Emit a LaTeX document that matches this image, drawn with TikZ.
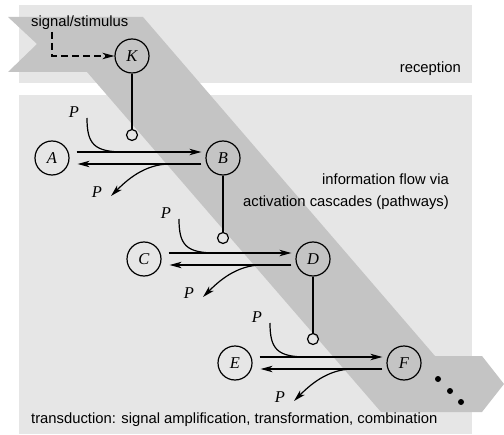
\documentclass[tikz,border=0pt]{standalone}
\usepackage{fontspec}
\setmainfont{Liberation Sans}
\newfontfamily\serifit{Liberation Serif}
\usetikzlibrary{arrows.meta,calc}
\definecolor{boxgray}{RGB}{230,230,230}
\definecolor{bandgray}{RGB}{196,196,196}
\newcommand{\reactpair}[2]{%
  \draw[arr] ($(#1.east)+(7,-6)$) -- ($(#2.west)+(-4,-6)$);
  \draw[arr] ($(#2.west)+(-4,6)$) -- ($(#1.east)+(8,6)$);
  \node[plabel] (#1pu) at ($(#1)+(22,-46)$) {P};
  \node[plabel] (#1pd) at ($(#1)+(45,34)$) {P};
  \coordinate (#1cu) at ($(#1)+(35,-40)$);
  \coordinate (#1cm) at ($(#1)+(72,-6)$);
  \coordinate (#1cd) at ($(#1)+(118,6)$);
  \coordinate (#1ce) at ($(#1)+(59,38)$);
  \draw[conn] (#1cu) .. controls ($(#1)+(35,-14)$) and ($(#1)+(42,-6)$) .. (#1cm);
  \draw[arr] (#1cd) .. controls ($(#1)+(92,6)$) and ($(#1)+(74,23)$) .. (#1ce);
}
\begin{document}
\begin{tikzpicture}[x=1bp,y=-1bp,
  state/.style={circle,draw,line width=1.2bp,minimum size=34bp,inner sep=0pt,
    font=\fontsize{16.5bp}{16.5bp}\selectfont\serifit\itshape},
  knob/.style={circle,draw,line width=1.2bp,minimum size=11bp,inner sep=0pt},
  plabel/.style={inner sep=0pt,font=\fontsize{16.5bp}{16.5bp}\selectfont\serifit\itshape},
  conn/.style={line width=1.2bp},
  arr/.style={line width=1.2bp,-{Stealth[length=12bp,width=6.5bp,inset=3.5bp]}},
  sig/.style={line width=1.2bp,dash pattern=on 7bp off 4bp,-{Stealth[length=12bp,width=6.5bp,inset=3.5bp]}},
  lbl/.style={inner sep=0pt,font=\fontsize{14.8bp}{18bp}\selectfont}]
\useasboundingbox (0,0) rectangle (504,435);
\fill[white] (0,0) rectangle (504,435);
\fill[boxgray] (19,5) rectangle (472,83);
\fill[boxgray] (19,95) rectangle (472,434);
\fill[bandgray] (8,17) -- (143,17) -- (435,356) -- (482,356) -- (504,384) -- (482,412)
  -- (381,412) -- (87,72) -- (8,72) -- (37,44) -- cycle;

\node[lbl,anchor=base west] (signal) at (31,27) {signal/stimulus};
\node[lbl,anchor=base east] (reception) at (461,73) {reception};
\node[lbl,anchor=base east] (info1) at (449,185) {information flow via};
\node[lbl,anchor=base east] (info2) at (449,207) {activation cascades (pathways)};
\node[lbl,anchor=base west] (trans) at (31,423) {transduction: signal amplification, transformation, combination};

\node[state] (K) at (132,56) {K};
\node[state] (A) at (52,158) {A};
\node[state] (B) at (223,158) {B};
\node[state] (C) at (144,259) {C};
\node[state] (D) at (313,259) {D};
\node[state] (E) at (235,363) {E};
\node[state] (F) at (404,363) {F};

\node[knob] (k1) at (132,135) {};
\node[knob] (k2) at (223,238) {};
\node[knob] (k3) at (313,339) {};
\draw[conn] (K) -- (k1);
\draw[conn] (B) -- (k2);
\draw[conn] (D) -- (k3);

\coordinate (sigstart) at (52,32);
\draw[sig] (sigstart) |- (K.west);

\reactpair{A}{B}
\reactpair{C}{D}
\reactpair{E}{F}

\fill (438,379) circle[radius=3bp];
\fill (450,391) circle[radius=3bp];
\fill (461,402) circle[radius=3bp];
\end{tikzpicture}
\end{document}
